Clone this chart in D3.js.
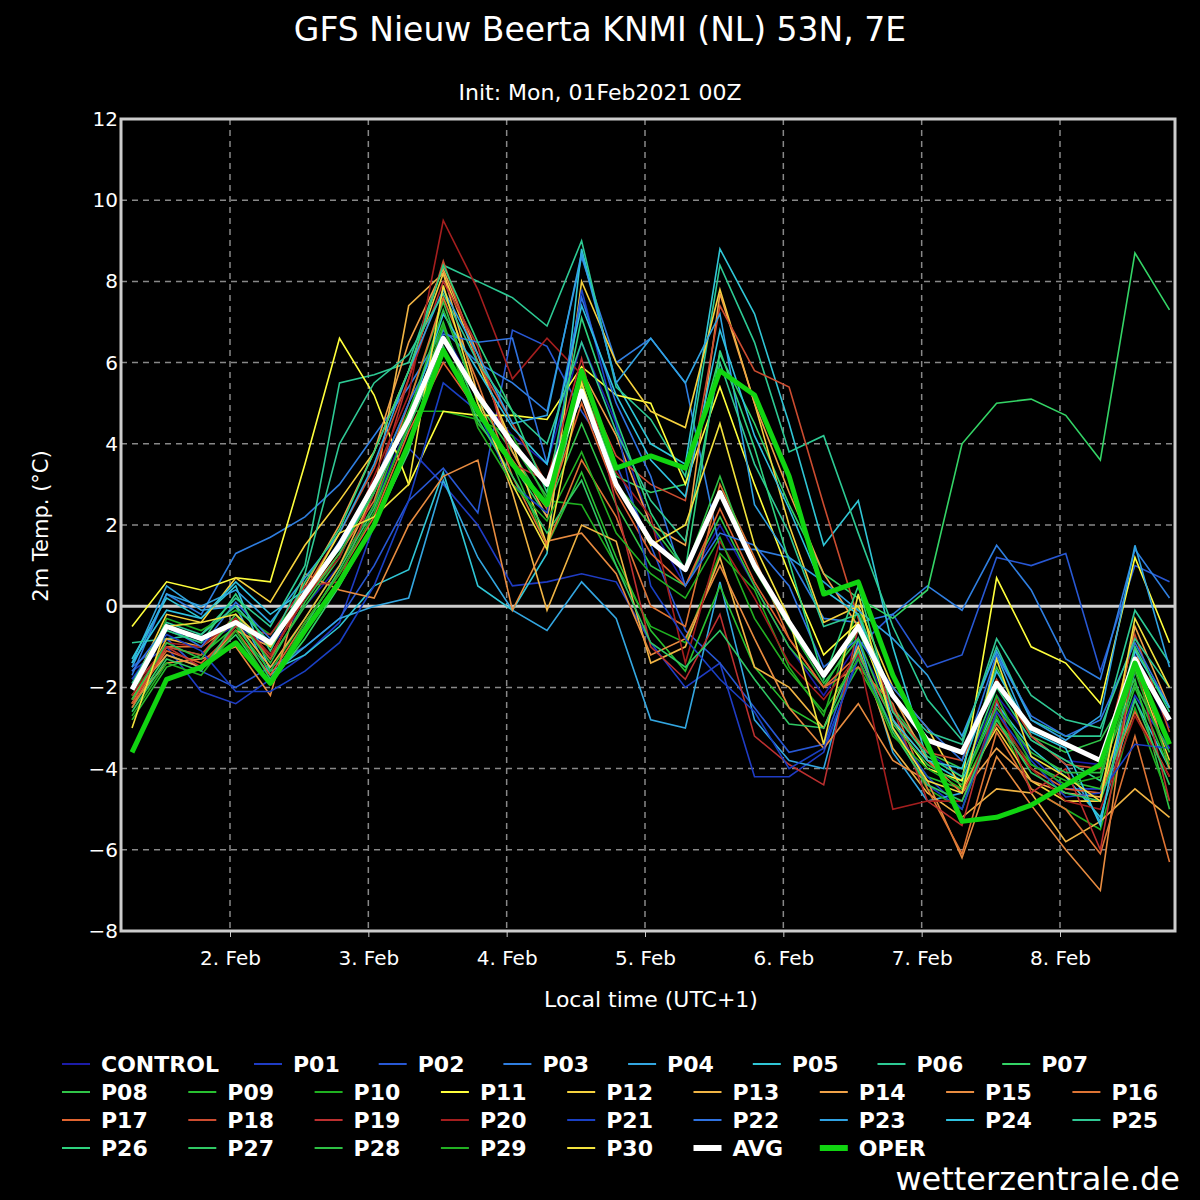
<!DOCTYPE html>
<html><head><meta charset="utf-8">
<script src="https://cdn.jsdelivr.net/npm/d3@7"></script>
<style>
body{margin:0;background:#000;}
text{font-family:"DejaVu Sans",sans-serif;fill:#fff;}
</style></head>
<body><svg id="chart" width="1200" height="1200"></svg>
<script>
const START = new Date(2021, 1, 1, 7); // 1 Feb 07:00 local
const STEP_H = 6;
const DAY_TICKS = ['2. Feb','3. Feb','4. Feb','5. Feb','6. Feb','7. Feb','8. Feb'];
const Y_TICKS = [-8,-6,-4,-2,0,2,4,6,8,10,12];

const names = ['CONTROL','P01','P02','P03','P04','P05','P06','P07','P08','P09','P10','P11','P12','P13','P14','P15','P16','P17','P18','P19','P20','P21','P22','P23','P24','P25','P26','P27','P28','P29','P30'];
const colors = ['#1c1ca8','#1f3cc4','#2858d4','#2f7ee0','#33a6e0','#30c6d6','#2dca94','#34d466','#30c448','#28c030','#1fb020','#ffff3c','#f6d23e','#f0b444','#f0a248','#e88c40','#de7434','#e06430','#cc4c30','#bc3030','#a41e1e','#1a40c4','#2f72e0','#30a2e2','#30c2e0','#30c894','#2ed27e','#30c864','#2ec044','#22b022','#f2e23e'];

const members = [
 [-1.8,-0.6,-0.9,-0.5,-1.0,0.0,1.0,2.5,4.5,6.8,5.2,4.2,3.5,6.5,4.5,2.0,0.5,2.0,0.5,-1.0,-2.2,-0.9,-2.6,-3.6,-4.2,-2.2,-3.3,-3.8,-3.9,-1.2,-3.0],
 [-1.6,-1.0,-2.1,-2.4,-1.8,-1.2,-0.4,2.0,3.9,3.0,2.0,0.5,0.6,0.8,0.6,-0.9,-2.0,-1.4,-4.2,-4.2,-3.6,-1.2,-2.8,-4.4,-5.0,-2.4,-3.7,-4.5,-4.5,-2.2,-3.5],
 [-1.5,-0.8,-1.6,-2.0,-1.5,-1.0,-0.3,1.0,2.6,3.4,2.3,6.8,6.4,4.8,3.5,1.5,-0.6,-1.4,-2.5,-3.6,-3.4,-1.0,-0.2,-1.5,-1.2,1.2,1.0,1.3,-1.6,1.0,0.6],
 [-1.7,0.3,-0.2,1.3,1.7,2.2,3.0,4.2,5.4,6.8,6.0,5.5,4.8,8.6,6.0,6.6,5.5,1.4,1.4,1.2,-0.3,-0.4,-0.2,0.5,-0.1,1.5,0.4,-1.3,-1.8,1.4,0.2],
 [-1.4,0.5,-0.1,0.0,-1.7,-1.0,-0.3,0.0,0.2,3.1,1.2,-0.1,-0.6,0.6,-0.3,-2.8,-3.0,0.6,-2.8,-3.8,-4.0,-0.8,-3.6,-4.8,-4.6,-1.2,-3.2,-3.9,-5.3,-1.6,-3.3],
 [-1.3,0.2,-0.3,0.5,-1.6,-1.2,-0.5,0.5,0.9,3.3,0.5,-0.1,1.3,8.8,5.5,4.0,3.5,8.8,7.2,4.5,1.5,2.6,-1.0,-3.8,-4.3,-2.4,-3.5,-4.2,-5.2,-2.3,-4.0],
 [-0.9,-0.8,-0.7,0.2,-0.5,1.0,5.5,5.7,6.0,8.4,8.0,7.6,6.9,9.0,5.4,4.6,3.2,8.4,6.5,3.8,4.2,1.8,-0.5,-2.3,-3.3,-1.0,-2.8,-3.2,-3.2,-0.1,-1.4],
 [-2.5,-1.2,-1.5,-0.7,-1.9,-0.8,0.5,2.0,3.8,6.9,4.8,3.5,2.2,5.5,3.2,2.8,3.0,6.2,4.5,2.5,0.8,0.2,-0.3,0.4,4.0,5.0,5.1,4.7,3.6,8.7,7.3],
 [-2.2,-1.0,-1.2,-0.3,-1.3,0.0,1.2,3.0,5.0,7.5,5.0,3.8,2.4,4.5,2.5,1.0,0.5,2.2,0.5,-1.0,-2.0,-0.6,-2.5,-3.6,-4.0,-1.5,-3.2,-3.6,-3.3,-1.8,-5.0],
 [-2.8,-1.5,-1.2,-0.5,-1.6,-0.3,1.0,2.5,4.8,7.0,4.5,3.5,1.5,3.3,1.2,-0.6,-1.6,0.5,-1.5,-2.5,-3.0,-1.5,-3.0,-4.2,-4.5,-2.8,-3.9,-4.3,-4.5,-2.0,-4.0],
 [-2.3,-0.3,-0.6,-0.1,-0.7,0.3,1.4,2.9,4.8,4.8,4.6,4.2,2.6,2.5,1.0,-0.5,-0.9,1.3,0.4,-1.5,-2.7,0.0,-3.0,-4.5,-5.0,-2.7,-4.5,-5.0,-5.5,-2.5,-4.8],
 [-0.5,0.6,0.4,0.7,0.6,3.5,6.6,5.2,3.0,4.8,4.7,4.7,4.6,5.9,5.2,5.0,3.0,5.4,3.0,0.8,-1.2,-0.4,-2.8,-4.0,-4.3,0.7,-1.0,-1.4,-2.4,1.2,-0.9],
 [-2.0,-0.2,-0.4,0.7,0.1,1.5,2.6,3.8,5.8,8.2,6.0,4.0,1.5,8.0,6.0,4.8,4.4,7.8,5.0,2.0,-0.4,0.0,-2.0,-3.0,-4.5,-3.0,-4.3,-4.8,-4.8,-1.5,-3.8],
 [-2.4,-0.8,-1.0,-0.4,-1.5,-0.3,1.0,2.8,7.4,8.2,5.2,2.8,-0.1,2.0,1.6,-1.4,-1.0,1.2,-1.5,-2.0,-3.0,-1.0,-3.5,-4.6,-5.2,-4.5,-4.6,-5.8,-5.3,-4.5,-5.2],
 [-2.2,-1.2,-1.5,-0.6,-1.0,0.5,2.0,3.8,6.5,8.3,6.2,3.8,2.2,5.8,4.2,2.0,1.5,7.7,5.0,2.8,0.8,-0.5,-2.2,-3.8,-4.6,-3.5,-4.3,-4.6,-4.7,-0.5,-2.5],
 [-2.4,-1.4,-1.3,-1.0,-2.2,0.8,0.4,0.2,2.0,3.2,3.6,-0.1,1.6,1.8,0.8,-1.2,-0.8,1.0,-0.8,-2.5,-3.5,-2.4,-3.8,-4.3,-6.2,-3.7,-4.9,-6.0,-7.0,-1.0,-4.0],
 [-2.5,-1.0,-1.0,-0.3,-1.2,0.2,1.3,2.6,5.0,7.6,5.5,3.2,1.5,3.6,2.2,0.0,-0.5,3.0,1.2,-0.8,-2.0,-1.5,-2.4,-4.5,-6.1,-3.1,-4.5,-5.0,-6.1,-3.2,-6.3],
 [-2.3,-1.1,-1.4,-0.6,-1.7,-0.4,0.8,2.2,4.3,6.0,4.8,3.6,2.4,5.0,2.8,1.3,0.5,2.4,0.6,-0.8,-2.0,-1.2,-2.8,-3.8,-4.6,-2.9,-4.0,-4.5,-4.6,-2.6,-4.2],
 [-2.4,-1.0,-1.2,-0.2,-1.3,0.4,1.8,3.4,5.6,8.5,6.0,4.5,3.0,5.6,3.7,3.0,2.6,7.4,5.8,5.4,2.5,-0.3,-2.6,-3.6,-3.8,-1.8,-3.2,-3.9,-4.0,-0.7,-3.1],
 [-2.0,-1.0,-1.5,-0.5,-0.7,0.5,0.6,2.8,5.6,8.0,6.4,3.5,3.1,6.1,2.5,-1.0,-1.8,-0.2,-3.2,-3.9,-4.4,-0.5,-2.5,-4.8,-5.4,-2.3,-4.6,-4.0,-6.0,-1.3,-4.8],
 [-2.2,-0.9,-1.0,-0.3,-1.2,0.2,1.2,3.2,5.2,9.5,7.8,5.6,6.6,5.7,3.3,2.2,-1.4,1.6,0.2,-1.4,-2.3,-1.2,-5.0,-4.8,-4.8,-2.6,-4.0,-4.8,-5.0,-2.7,-4.2],
 [-1.8,-0.7,-1.1,-2.1,-2.1,-1.6,-0.9,0.5,2.6,5.5,4.8,3.0,2.3,7.8,4.5,0.5,-0.8,-1.8,-2.6,-4.0,-3.5,-1.3,-3.0,-4.2,-5.0,-2.6,-3.8,-4.7,-4.6,-3.4,-3.5],
 [-1.6,-0.5,-1.0,0.1,-0.8,0.3,1.6,3.0,5.0,6.7,6.5,6.6,3.5,7.6,5.0,3.2,0.5,1.8,1.5,0.5,-1.5,-0.8,-2.0,-3.0,-3.8,-1.2,-2.7,-3.2,-2.8,-0.9,-2.5],
 [-1.5,0.3,0.0,0.4,-0.4,0.7,1.8,3.5,5.8,7.8,6.2,4.5,4.7,8.7,5.5,6.6,5.5,7.2,2.5,1.2,0.6,-0.1,-0.8,-1.7,-3.2,-1.1,-2.8,-3.3,-2.7,1.5,-1.5],
 [-1.4,-0.1,-0.3,0.6,-0.2,0.4,1.4,2.8,4.6,7.2,5.8,4.4,3.5,7.4,5.2,3.6,2.7,6.8,4.2,2.4,0.4,-0.2,-2.8,-3.8,-4.0,-1.6,-3.1,-3.5,-5.4,-1.1,-2.5],
 [-1.9,-0.4,-0.7,0.0,-0.9,0.8,4.0,5.5,6.2,7.7,6.0,4.8,4.0,6.5,4.3,2.6,1.6,6.0,3.5,1.8,-0.5,-0.2,-2.2,-3.1,-3.4,-0.8,-2.2,-2.8,-3.0,-0.8,-2.0],
 [-2.0,-0.6,-0.9,0.3,-1.1,0.6,1.9,3.8,5.8,8.4,6.5,4.8,2.8,7.1,4.6,2.3,0.9,6.3,3.9,1.1,-1.8,0.5,-2.6,-3.7,-4.2,-2.0,-3.3,-3.8,-4.3,-1.0,-2.6],
 [-2.6,-1.3,-1.6,-0.4,-1.8,-0.5,0.9,2.4,4.4,6.4,4.6,3.2,1.8,3.1,1.0,-0.9,-1.5,-0.6,-1.8,-2.9,-3.0,-1.1,-3.1,-4.4,-4.8,-2.8,-4.1,-4.6,-4.8,-2.3,-4.4],
 [-2.3,-0.9,-1.3,-0.2,-1.4,0.1,1.3,2.8,4.7,7.3,5.1,4.0,2.7,5.4,3.0,2.0,0.9,3.2,0.9,-0.5,-1.9,-0.8,-2.9,-3.9,-4.4,-2.5,-3.6,-4.1,-4.1,-1.9,-3.6],
 [-2.7,-1.4,-1.7,-0.6,-1.9,-0.4,0.8,2.3,4.5,6.9,4.4,3.0,2.1,3.8,1.8,0.8,0.2,1.7,-0.3,-1.6,-2.6,-1.3,-3.2,-4.0,-4.5,-2.2,-3.9,-4.4,-4.2,-1.6,-3.9],
 [-3.0,-0.5,-0.4,-0.2,-1.0,0.3,1.8,2.2,3.0,7.9,5.0,3.0,1.4,5.5,3.0,1.5,2.0,4.5,1.5,-0.3,-3.4,0.3,-3.0,-4.3,-4.6,-1.3,-3.7,-4.2,-4.8,-0.3,-2.0]
];
const avg = [-2.05,-0.5,-0.8,-0.4,-0.9,0.3,1.5,3.0,4.6,6.6,5.2,4.0,3.0,5.3,3.0,1.6,0.9,2.8,1.0,-0.4,-1.7,-0.5,-2.2,-3.3,-3.6,-1.9,-3.0,-3.4,-3.8,-1.3,-2.8];
const oper = [-3.6,-1.8,-1.5,-0.9,-1.9,-0.6,0.6,2.0,4.0,6.3,4.8,3.5,2.5,5.8,3.4,3.7,3.4,5.8,5.2,3.2,0.3,0.6,-1.7,-3.4,-5.3,-5.2,-4.9,-4.4,-3.9,-1.4,-3.4];

const svg = d3.select('#chart');
const PLOT = {x0: 121, x1: 1175, y0: 119, y1: 931};
const timeOf = i => new Date(START.getTime() + i * STEP_H * 3600e3);
const dayDates = DAY_TICKS.map((_, i) => new Date(2021, 1, 2 + i));
const x = d3.scaleTime().domain([dayDates[0], dayDates[6]]).range([230, 1060]);
const y = d3.scaleLinear().domain([-8, 12]).range([PLOT.y1, PLOT.y0]);

// grid
svg.append('g').selectAll('line').data(Y_TICKS.slice(1, -1)).join('line')
  .attr('x1', PLOT.x0).attr('x2', PLOT.x1).attr('y1', y).attr('y2', y)
  .attr('stroke', '#888').attr('stroke-width', 1.5).attr('stroke-dasharray', '6,5');
svg.append('g').selectAll('line').data(dayDates).join('line')
  .attr('x1', x).attr('x2', x).attr('y1', PLOT.y0).attr('y2', PLOT.y1)
  .attr('stroke', '#888').attr('stroke-width', 1.5).attr('stroke-dasharray', '6,5');
svg.append('line').attr('x1', PLOT.x0).attr('x2', PLOT.x1).attr('y1', y(0)).attr('y2', y(0))
  .attr('stroke', '#ccc').attr('stroke-width', 3);

const line = d3.line().x((d, i) => x(timeOf(i))).y(d => y(d));
const gLines = svg.append('g');
members.forEach((m, k) => gLines.append('path').attr('d', line(m)).attr('fill', 'none')
  .attr('stroke', colors[k]).attr('stroke-width', 1.6));
gLines.append('path').attr('d', line(avg)).attr('fill', 'none').attr('stroke', '#fff').attr('stroke-width', 5).attr('stroke-linejoin', 'round');
gLines.append('path').attr('d', line(oper)).attr('fill', 'none').attr('stroke', '#11d411').attr('stroke-width', 5).attr('stroke-linejoin', 'round');

svg.append('rect').attr('x', PLOT.x0).attr('y', PLOT.y0).attr('width', PLOT.x1 - PLOT.x0).attr('height', PLOT.y1 - PLOT.y0)
  .attr('fill', 'none').attr('stroke', '#ccc').attr('stroke-width', 3);

// axes
const ax = svg.append('g').attr('transform', `translate(0,${PLOT.y1})`)
  .call(d3.axisBottom(x).tickValues(dayDates).tickFormat((d, i) => DAY_TICKS[i]).tickSize(6).tickPadding(14));
const ay = svg.append('g').attr('transform', `translate(${PLOT.x0},0)`)
  .call(d3.axisLeft(y).tickValues(Y_TICKS).tickFormat(d => d < 0 ? '\u2212' + (-d) : d).tickSize(0).tickPadding(4));
[ax, ay].forEach(g => {
  g.select('.domain').remove();
  g.selectAll('line').attr('stroke', '#ccc');
  g.selectAll('text').attr('fill', '#fff').style('font-size', '20px').style('font-family', '"DejaVu Sans",sans-serif');
});
ay.selectAll('text').attr('x', -3);

svg.append('text').attr('x', 600).attr('y', 41).attr('text-anchor', 'middle').style('font-size', '33px').text('GFS Nieuw Beerta KNMI (NL) 53N, 7E');
svg.append('text').attr('x', 600).attr('y', 100).attr('text-anchor', 'middle').style('font-size', '22px').text('Init: Mon, 01Feb2021 00Z');
svg.append('text').attr('x', 651).attr('y', 1007).attr('text-anchor', 'middle').style('font-size', '22px').text('Local time (UTC+1)');
svg.append('text').attr('transform', 'translate(48,526) rotate(-90)').attr('text-anchor', 'middle').style('font-size', '21px').text('2m Temp. (°C)');
svg.append('text').attr('x', 1180).attr('y', 1190).attr('text-anchor', 'end').style('font-size', '32px').text('wetterzentrale.de');

// legend: first row has a wider first column (CONTROL)
const legItems = names.map((n, k) => ({n, c: colors[k], w: 2}))
  .concat([{n: 'AVG', c: '#fff', w: 6}, {n: 'OPER', c: '#11d411', w: 6}]);
function legPos(i) {
  if (i < 8) return [i === 0 ? 62 : 254 + (i - 1) * 124.7, 1064];
  const j = i - 8;
  return [62 + (j % 9) * 126.3, 1092 + Math.floor(j / 9) * 28];
}
const leg = svg.append('g').selectAll('g').data(legItems).join('g')
  .attr('transform', (d, i) => `translate(${legPos(i)[0]},${legPos(i)[1]})`);
leg.append('line').attr('x1', 0).attr('x2', 28).attr('stroke', d => d.c).attr('stroke-width', d => d.w);
leg.append('text').attr('x', 39).attr('dy', '0.36em').style('font-size', '22px').style('font-weight', 'bold').text(d => d.n);
</script></body></html>
